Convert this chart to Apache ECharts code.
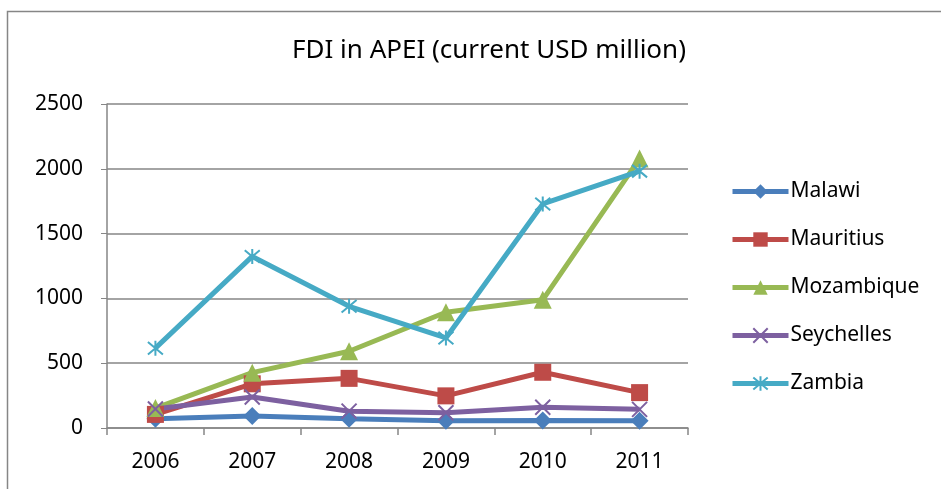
<!DOCTYPE html>
<html>
<head>
<meta charset="UTF-8">
<title>FDI in APEI</title>
<script src="https://cdn.jsdelivr.net/npm/echarts@6/dist/echarts.min.js"></script>
<style>
  body { margin: 0; padding: 0; background: #fff; }
  #main { width: 941px; height: 489px; }
</style>
</head>
<body>
<div id="main"></div>
<script type="text/javascript">
// data (current USD million)
var years = ['2006', '2007', '2008', '2009', '2010', '2011'];
var malawi = [72, 92, 71, 55, 58, 56];
var mauritius = [105, 341, 383, 248, 430, 273];
var mozambique = [154, 427, 592, 893, 989, 2079];
var seychelles = [146, 239, 130, 118, 160, 144];
var zambia = [616, 1324, 939, 695, 1729, 1982];
var yTicks = [0, 500, 1000, 1500, 2000, 2500];

var font = 'Noto Sans';
var crossPath = 'path://M0,0L10,10M10,0L0,10';
var starPath = 'path://M0,0L10,10M10,0L0,10M5,-1L5,11';

function mk(name, data, color, symbol, size, stroke) {
    var s = {
        name: name,
        type: 'line',
        data: data,
        symbol: symbol,
        symbolSize: size,
        lineStyle: { color: color, width: 5 },
        itemStyle: { color: color }
    };
    if (stroke) {
        s.itemStyle = { color: 'rgba(0,0,0,0)', borderColor: color, borderWidth: 2 };
    }
    return s;
}

var myChart = echarts.init(document.getElementById('main'));
var option = {
    animation: false,
    title: {
        text: 'FDI in APEI (current USD million)',
        left: 484, top: 33, textAlign: 'center',
        textStyle: { fontFamily: font, fontWeight: 'normal', fontSize: 26, color: '#000' }
    },
    graphic: [{
        type: 'rect',
        shape: { x: 7.5, y: 11.5, width: 940, height: 490 },
        style: { fill: 'none', stroke: '#868686', lineWidth: 1.5 }
    }],
    legend: {
        orient: 'vertical',
        left: 725, top: 176,
        itemWidth: 56, itemHeight: 18, itemGap: 27,
        lineStyle: { width: 5 },
        textStyle: { fontFamily: font, fontSize: 21, color: '#000', padding: [0, 0, 0, -3] },
        data: ['Malawi', 'Mauritius', 'Mozambique', 'Seychelles', 'Zambia']
    },
    grid: { left: 107, right: 253, top: 104, bottom: 61 },
    xAxis: {
        type: 'category',
        data: years,
        boundaryGap: true,
        axisLine: { lineStyle: { color: '#868686', width: 1.5 } },
        axisTick: { show: true, length: 7, lineStyle: { color: '#868686', width: 1.5 } },
        axisLabel: { fontFamily: font, fontSize: 21, color: '#000', margin: 24 }
    },
    yAxis: {
        type: 'value',
        min: 0, max: 2500, interval: 500,
        axisLine: { show: true, lineStyle: { color: '#868686', width: 1.5 } },
        axisTick: { show: true, length: 6, inside: false, lineStyle: { color: '#868686' } },
        splitLine: { lineStyle: { color: '#868686', width: 1.5 } },
        axisLabel: {
            fontFamily: font, fontSize: 21, color: '#000', margin: 24,
            formatter: function (v) { return yTicks.indexOf(v) >= 0 ? String(v) : ''; }
        }
    },
    series: [
        mk('Malawi', malawi, '#4A7EBB', 'diamond', 18),
        mk('Mauritius', mauritius, '#BE4B48', 'rect', 17),
        mk('Mozambique', mozambique, '#98B954', 'triangle', 18),
        mk('Seychelles', seychelles, '#7D60A0', crossPath, 15, true),
        mk('Zambia', zambia, '#46AAC5', starPath, 15, true)
    ]
};
myChart.setOption(option);
</script>
</body>
</html>
